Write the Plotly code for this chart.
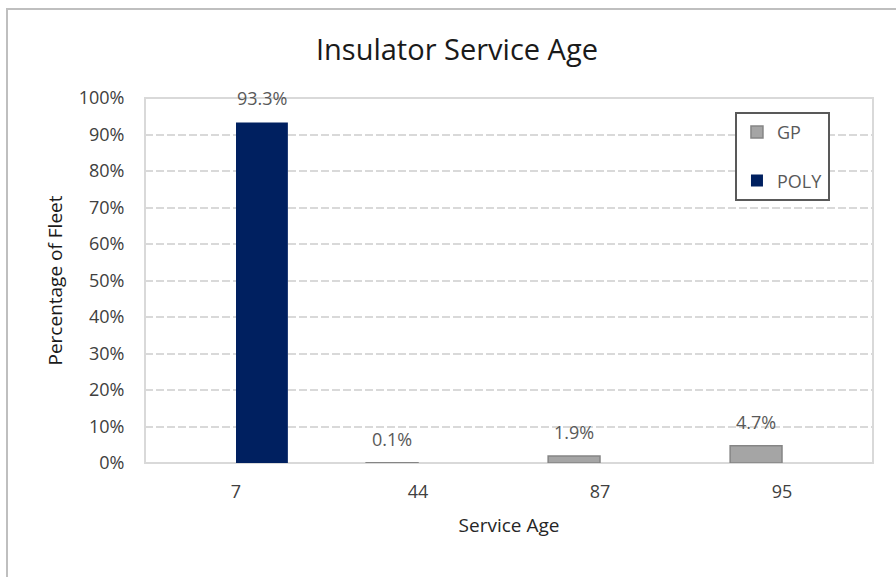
import plotly.graph_objects as go

# Service age categories and fleet share per insulator type (percent)
service_age = ["7", "44", "87", "95"]
gp_share = [None, 0.1, 1.9, 4.7]
poly_share = [93.3, None, None, None]
y_ticks = [0, 10, 20, 30, 40, 50, 60, 70, 80, 90, 100]

FONT = "'Open Sans', Lato, sans-serif"
LABEL_GRAY = "#595959"
TICK_DARK = "#404040"
GP_COLOR = "#a5a5a5"
POLY_COLOR = "#002060"

fig = go.Figure()
fig.add_trace(go.Bar(
    name="GP", x=service_age, y=gp_share, legendgroup="gp",
    marker=dict(color=GP_COLOR, line=dict(color="#858585", width=1.5)),
))
fig.add_trace(go.Bar(
    name="POLY", x=service_age, y=poly_share, legendgroup="poly",
    marker=dict(color=POLY_COLOR, line=dict(width=0)),
))

# Value labels above each bar; on a category axis the position is the category index,
# shifted sideways to the bar's slot within its group
for values, shift in ((gp_share, -26), (poly_share, 26)):
    for idx, v in enumerate(values):
        if v is None:
            continue
        fig.add_annotation(
            x=idx, y=v, xref="x", yref="y", text=f"{v:.1f}%",
            showarrow=False, xshift=shift, yshift=10, yanchor="bottom",
            font=dict(family=FONT, size=18, color=LABEL_GRAY),
        )

fig.update_layout(
    width=896, height=577,
    margin=dict(l=145, r=23, t=98, b=114),
    paper_bgcolor="white", plot_bgcolor="white",
    barmode="group", bargap=0.43, bargroupgap=0,
    title=dict(text="Insulator Service Age", x=0.51, xanchor="center",
               y=0.913, yanchor="middle",
               font=dict(family=FONT, size=29, color="#1a1a1a")),
    font=dict(family=FONT, size=18, color=LABEL_GRAY),
    showlegend=True,
    legend=dict(x=0.8104, y=0.962, xanchor="left", yanchor="top",
                bgcolor="white", bordercolor="#595959", borderwidth=2,
                font=dict(family=FONT, size=18, color=LABEL_GRAY),
                itemwidth=30, tracegroupgap=22),
    xaxis=dict(
        type="category", range=[-0.5, len(service_age) - 0.5],
        showgrid=False, showline=False,
        ticks="outside", ticklen=12, tickcolor="rgba(0,0,0,0)",
        tickfont=dict(family=FONT, size=18, color=TICK_DARK),
        title=dict(text="Service Age", standoff=17,
                   font=dict(family=FONT, size=19, color="#262626")),
    ),
    yaxis=dict(
        range=[0, 100], tickvals=y_ticks,
        ticktext=[f"{t}%" for t in y_ticks],
        showgrid=True, gridcolor="#d9d9d9", griddash="8px,3px", gridwidth=1.5,
        zeroline=False, showline=False,
        ticks="outside", ticklen=16, tickcolor="rgba(0,0,0,0)",
        tickfont=dict(family=FONT, size=18, color=TICK_DARK),
        title=dict(text="Percentage of Fleet", standoff=10,
                   font=dict(family=FONT, size=19, color="#1a1a1a")),
    ),
)

# Plot-area frame (beneath the bars so thin bars stay visible on the baseline)
fig.add_shape(type="rect", xref="paper", yref="paper", x0=0, y0=0, x1=1, y1=1,
              line=dict(color="#d9d9d9", width=2), layer="below")
# Chart-area frame
fig.add_shape(type="rect", xref="paper", yref="paper",
              x0=-138 / 728, y0=-130 / 365, x1=1.2, y1=1 + 89 / 365,
              line=dict(color="#bfbfbf", width=2), layer="above")

fig.write_html("out.html")
